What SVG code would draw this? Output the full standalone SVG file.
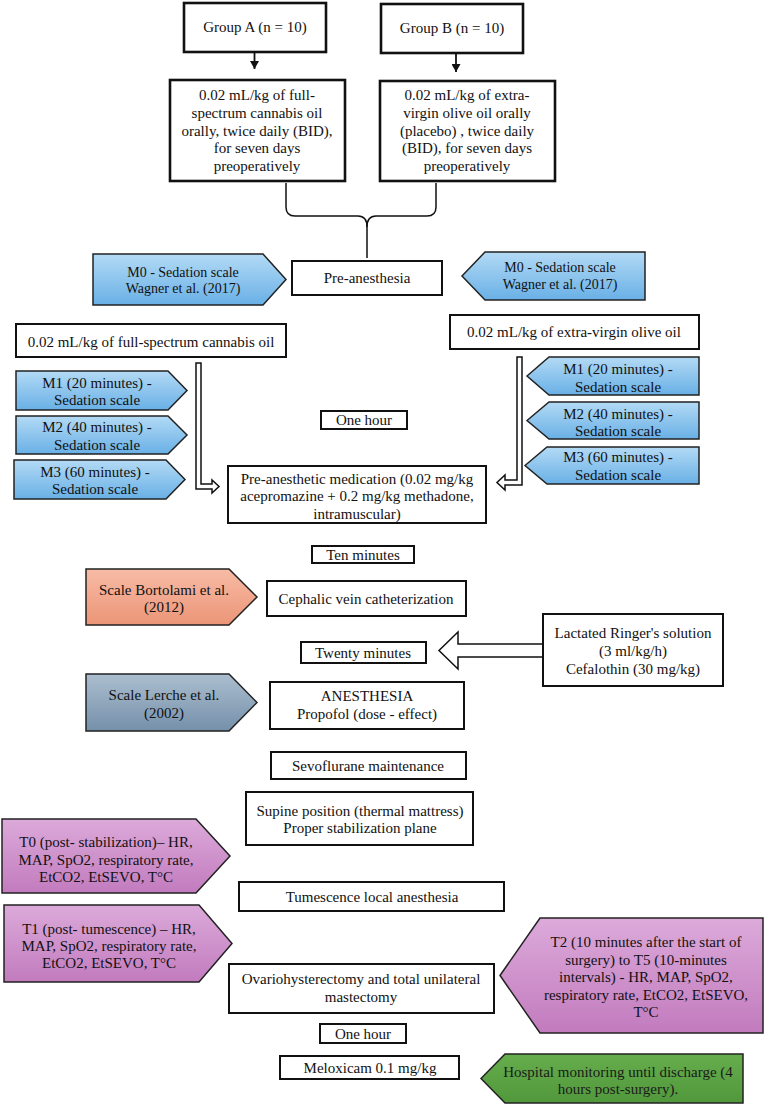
<svg xmlns="http://www.w3.org/2000/svg" width="764" height="1104" viewBox="0 0 764 1104">
<style>
.bg{fill:#fff}
.box{fill:#fff;stroke:#111;stroke-width:2}
.thick{stroke-width:2.6}
.pent{stroke:#222;stroke-width:1.5}
.t{font-family:"Liberation Serif","Times New Roman",serif;font-size:15px;text-anchor:middle;fill:#111}
.s{font-size:14px}
.ln{fill:none;stroke:#111;stroke-width:1.5}
.hollow{fill:#fff;stroke:#111;stroke-width:1.5;stroke-linejoin:miter}
</style>
<defs>
<linearGradient id="gBlue" x1="0" y1="0" x2="0" y2="1"><stop offset="0" stop-color="#b3daf5"/><stop offset="1" stop-color="#69b0e6"/></linearGradient>
<linearGradient id="gOrange" x1="0" y1="0" x2="0" y2="1"><stop offset="0" stop-color="#f7bba6"/><stop offset="1" stop-color="#ec9577"/></linearGradient>
<linearGradient id="gSlate" x1="0" y1="0" x2="0" y2="1"><stop offset="0" stop-color="#abbecf"/><stop offset="1" stop-color="#7590aa"/></linearGradient>
<linearGradient id="gPurple" x1="0" y1="0" x2="0" y2="1"><stop offset="0" stop-color="#dcaada"/><stop offset="1" stop-color="#c27bbe"/></linearGradient>
<linearGradient id="gGreen" x1="0" y1="0" x2="0" y2="1"><stop offset="0" stop-color="#66ad4d"/><stop offset="1" stop-color="#51983c"/></linearGradient>
<marker id="ah" markerWidth="9" markerHeight="9" refX="8" refY="4.5" orient="auto" markerUnits="userSpaceOnUse"><path d="M0,0 L8,4.5 L0,9 z" fill="#111"/></marker>
</defs>
<rect class="bg" x="0" y="0" width="764" height="1104"/>

<g id="connectors">
<line class="ln" x1="254.5" y1="52" x2="254.5" y2="69" marker-end="url(#ah)" style="stroke-width:1.8"/>
<line class="ln" x1="456" y1="53" x2="456" y2="72" marker-end="url(#ah)" style="stroke-width:1.8"/>
<path class="ln" d="M286,183 L286,207 Q286,216 295,216 L358,216 Q367,216 367,227 L367,258"/>
<path class="ln" d="M436,183 L436,207 Q436,216 427,216 L376,216 Q367,216 367,227"/>
<polygon class="hollow" points="196,363 201,363 201,484 212,484 212,480 219,486.5 212,493 212,489 196,489"/>
<polygon class="hollow" points="522,357 517,357 517,480 505,480 505,475 497,482.5 505,490 505,485 522,485"/>
<polygon class="hollow" points="543,644 458,644 458,632 439,650.5 458,669 458,657 543,657"/>
</g>

<g id="groupA"><rect class="box thick" x="184" y="3" width="142" height="49"/><text class="t" x="255" y="32">Group A (n = 10)</text></g>
<g id="groupB"><rect class="box thick" x="381" y="4" width="142" height="49"/><text class="t" x="452" y="33">Group B (n = 10)</text></g>

<g id="treatA"><rect class="box thick" x="170" y="80" width="175" height="101"/>
<text class="t" x="257"><tspan x="257" y="100">0.02 mL/kg of full-</tspan><tspan x="257" y="118">spectrum cannabis oil</tspan><tspan x="257" y="136">orally, twice daily (BID),</tspan><tspan x="257" y="153">for seven days</tspan><tspan x="257" y="171">preoperatively</tspan></text></g>
<g id="treatB"><rect class="box thick" x="380" y="81" width="175" height="100"/>
<text class="t" x="467"><tspan x="467" y="100">0.02 mL/kg of extra-</tspan><tspan x="467" y="118">virgin olive oil orally</tspan><tspan x="467" y="136">(placebo) , twice daily</tspan><tspan x="467" y="153">(BID), for seven days</tspan><tspan x="467" y="171">preoperatively</tspan></text></g>

<g id="m0Left"><polygon class="pent" fill="url(#gBlue)" points="93,254 263,254 286,279.5 263,305 93,305"/>
<text class="t s" x="183"><tspan x="183" y="277">M0 - Sedation scale</tspan><tspan x="183" y="293">Wagner et al. (2017)</tspan></text></g>
<g id="preAnesthesia"><rect class="box" x="292" y="261" width="150" height="34"/><text class="t" x="367" y="283">Pre-anesthesia</text></g>
<g id="m0Right"><polygon class="pent" fill="url(#gBlue)" points="462,276 485,252 645,252 645,300 485,300"/>
<text class="t s" x="560"><tspan x="560" y="272">M0 - Sedation scale</tspan><tspan x="560" y="289">Wagner et al. (2017)</tspan></text></g>

<g id="cannabisOil"><rect class="box" x="16" y="324" width="270" height="33"/><text class="t" x="151" y="347">0.02 mL/kg of full-spectrum cannabis oil</text></g>
<g id="oliveOil"><rect class="box" x="450" y="315" width="249" height="34"/><text class="t" x="574" y="337">0.02 mL/kg of extra-virgin olive oil</text></g>

<g id="m1Left"><polygon class="pent" fill="url(#gBlue)" points="16,371 168,371 187,390.5 168,410 16,410"/>
<text class="t" x="97"><tspan x="97" y="388">M1 (20 minutes) -</tspan><tspan x="97" y="405">Sedation scale</tspan></text></g>
<g id="m2Left"><polygon class="pent" fill="url(#gBlue)" points="16,416 168,416 187,435 168,454 16,454"/>
<text class="t" x="97"><tspan x="97" y="432">M2 (40 minutes) -</tspan><tspan x="97" y="450">Sedation scale</tspan></text></g>
<g id="m3Left"><polygon class="pent" fill="url(#gBlue)" points="14,460 166,460 185,479.5 166,499 14,499"/>
<text class="t" x="95"><tspan x="95" y="477">M3 (60 minutes) -</tspan><tspan x="95" y="494">Sedation scale</tspan></text></g>

<g id="m1Right"><polygon class="pent" fill="url(#gBlue)" points="527,376 549,357 699,357 699,395 549,395"/>
<text class="t" x="618"><tspan x="618" y="374">M1 (20 minutes) -</tspan><tspan x="618" y="392">Sedation scale</tspan></text></g>
<g id="m2Right"><polygon class="pent" fill="url(#gBlue)" points="527,420.5 549,402 699,402 699,439 549,439"/>
<text class="t" x="618"><tspan x="618" y="419">M2 (40 minutes) -</tspan><tspan x="618" y="436">Sedation scale</tspan></text></g>
<g id="m3Right"><polygon class="pent" fill="url(#gBlue)" points="525,465.5 547,447 699,447 699,484 547,484"/>
<text class="t" x="618"><tspan x="618" y="462">M3 (60 minutes) -</tspan><tspan x="618" y="480">Sedation scale</tspan></text></g>

<g id="oneHour1"><rect class="box" x="321" y="411" width="86" height="18"/><text class="t" x="364" y="425">One hour</text></g>
<g id="preMedication"><rect class="box" x="228" y="466" width="258" height="57"/>
<text class="t" x="357"><tspan x="357" y="484">Pre-anesthetic medication (0.02 mg/kg</tspan><tspan x="357" y="501">acepromazine + 0.2 mg/kg methadone,</tspan><tspan x="357" y="519">intramuscular)</tspan></text></g>

<g id="tenMinutes"><rect class="box" x="312" y="546" width="102" height="17"/><text class="t" x="363" y="560">Ten minutes</text></g>
<g id="bortolami"><polygon class="pent" fill="url(#gOrange)" points="86,569 229,569 257,597 229,625 86,625"/>
<text class="t" x="164"><tspan x="164" y="595">Scale Bortolami et al.</tspan><tspan x="164" y="612">(2012)</tspan></text></g>
<g id="cephalic"><rect class="box" x="267" y="581" width="199" height="35"/><text class="t" x="366" y="604">Cephalic vein catheterization</text></g>

<g id="lactated"><rect class="box" x="543" y="614" width="180" height="72"/>
<text class="t" x="633"><tspan x="633" y="638">Lactated Ringer's solution</tspan><tspan x="633" y="656">(3 ml/kg/h)</tspan><tspan x="633" y="674">Cefalothin (30 mg/kg)</tspan></text></g>
<g id="twentyMinutes"><rect class="box" x="301" y="642" width="125" height="21"/><text class="t" x="363" y="658">Twenty minutes</text></g>

<g id="lerche"><polygon class="pent" fill="url(#gSlate)" points="86,674 229,674 257,702.5 229,731 86,731"/>
<text class="t" x="164"><tspan x="164" y="700">Scale Lerche et al.</tspan><tspan x="164" y="718">(2002)</tspan></text></g>
<g id="anesthesia"><rect class="box" x="270" y="682" width="194" height="47"/>
<text class="t" x="367"><tspan x="367" y="701">ANESTHESIA</tspan><tspan x="367" y="719">Propofol (dose - effect)</tspan></text></g>

<g id="sevoflurane"><rect class="box" x="271" y="752" width="195" height="27"/><text class="t" x="368" y="771">Sevoflurane maintenance</text></g>
<g id="supine"><rect class="box" x="246" y="792" width="227" height="53"/>
<text class="t" x="360"><tspan x="360" y="816">Supine position (thermal mattress)</tspan><tspan x="360" y="833">Proper stabilization plane</tspan></text></g>

<g id="t0"><polygon class="pent" fill="url(#gPurple)" points="2,819 196,819 230,856 196,893 2,893"/>
<text class="t" x="106"><tspan x="106" y="847">T0 (post- stabilization)– HR,</tspan><tspan x="106" y="865">MAP, SpO2, respiratory rate,</tspan><tspan x="106" y="882">EtCO2, EtSEVO, T°C</tspan></text></g>
<g id="tumescence"><rect class="box" x="239" y="882" width="265" height="29"/><text class="t" x="372" y="902">Tumescence local anesthesia</text></g>

<g id="t1"><polygon class="pent" fill="url(#gPurple)" points="4,905 199,905 232,943.5 199,982 4,982"/>
<text class="t" x="109"><tspan x="109" y="934">T1 (post- tumescence) – HR,</tspan><tspan x="109" y="951">MAP, SpO2, respiratory rate,</tspan><tspan x="109" y="968">EtCO2, EtSEVO, T°C</tspan></text></g>
<g id="surgery"><rect class="box" x="229" y="964" width="265" height="49"/>
<text class="t" x="361"><tspan x="361" y="984">Ovariohysterectomy and total unilateral</tspan><tspan x="361" y="1002">mastectomy</tspan></text></g>
<g id="t2"><polygon class="pent" fill="url(#gPurple)" points="500,975.5 540,918 763,918 763,1033 540,1033"/>
<text class="t" x="646"><tspan x="646" y="947">T2 (10 minutes after the start of</tspan><tspan x="646" y="965">surgery) to T5 (10-minutes</tspan><tspan x="646" y="982">intervals) - HR, MAP, SpO2,</tspan><tspan x="646" y="1000">respiratory rate, EtCO2, EtSEVO,</tspan><tspan x="646" y="1017">T°C</tspan></text></g>

<g id="oneHour2"><rect class="box" x="320" y="1024" width="86" height="19"/><text class="t" x="363" y="1039">One hour</text></g>
<g id="meloxicam"><rect class="box" x="280" y="1056" width="179" height="23"/><text class="t" x="370" y="1073">Meloxicam 0.1 mg/kg</text></g>
<g id="hospital"><polygon class="pent" fill="url(#gGreen)" points="481,1078.5 505,1054 743,1054 743,1103 505,1103"/>
<text class="t" x="618" style="fill:#1a1a1a"><tspan x="618" y="1077">Hospital monitoring until discharge (4</tspan><tspan x="618" y="1094">hours post-surgery).</tspan></text></g>
</svg>
